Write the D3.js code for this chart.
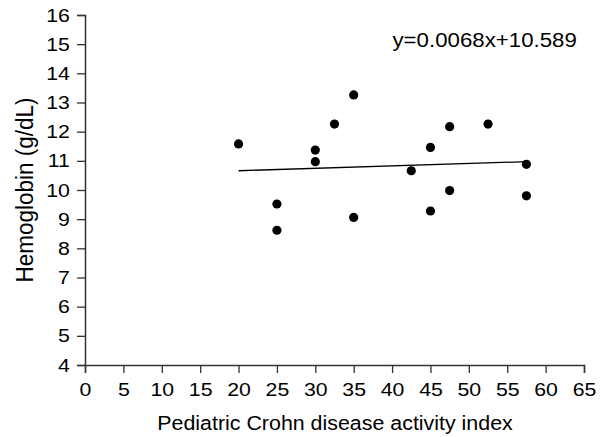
<!DOCTYPE html>
<html>
<head>
<meta charset="utf-8">
<script src="https://cdn.jsdelivr.net/npm/d3@7"></script>
<style>
  html, body { margin: 0; padding: 0; background: #fff; }
  svg { display: block; }
  text { font-family: "Liberation Sans", Arial, Helvetica, sans-serif; fill: #000; }
</style>
</head>
<body>
<svg id="chart" width="606" height="437"></svg>
<script>
// Data
const pcdai = [20, 25, 25, 30, 30, 32.5, 35, 35, 42.5, 45, 45, 47.5, 47.5, 52.5, 57.5, 57.5];
const hemoglobin = [11.58, 9.52, 8.62, 11.37, 10.97, 12.26, 13.26, 9.06, 10.66, 11.46, 9.28, 12.17, 9.98, 12.26, 10.88, 9.80];
const trendX = [20, 57.5];
const trendY = [10.66, 10.97];
const xTicks = [0, 5, 10, 15, 20, 25, 30, 35, 40, 45, 50, 55, 60, 65];
const yTicks = [4, 5, 6, 7, 8, 9, 10, 11, 12, 13, 14, 15, 16];
const equationLabel = "y=0.0068x+10.589";
const xTitle = "Pediatric Crohn disease activity index";
const yTitle = "Hemoglobin (g/dL)";

const svg = d3.select("#chart");
const mLeft = 85, mRight = 584, mTop = 15, mBottom = 365;
const stretch = 1.12; // reference glyphs are slightly wide

const x = d3.scaleLinear().domain([0, 65]).range([mLeft, mRight]);
const y = d3.scaleLinear().domain([4, 16]).range([mBottom, mTop]);

const xAxis = svg.append("g")
  .attr("transform", `translate(0,${mBottom})`)
  .call(d3.axisBottom(x).tickValues(xTicks).tickSize(8).tickPadding(10).tickFormat(d3.format("d")));
const yAxis = svg.append("g")
  .attr("transform", `translate(${mLeft},0)`)
  .call(d3.axisLeft(y).tickValues(yTicks).tickSize(8).tickPadding(5.5).tickFormat(d3.format("d")));

[xAxis, yAxis].forEach(g => {
  g.select(".domain").attr("stroke", "#333").attr("stroke-width", 1.5);
  g.selectAll(".tick line").attr("stroke", "#333").attr("stroke-width", 1.3);
  g.selectAll(".tick text").style("font-size", "19px").attr("fill", "#000")
    .style("font-family", '"Liberation Sans", Arial, sans-serif')
    .attr("transform", `scale(${stretch},1)`);
});

// Trend line
svg.append("line")
  .attr("x1", x(trendX[0])).attr("y1", y(trendY[0]))
  .attr("x2", x(trendX[1])).attr("y2", y(trendY[1]))
  .attr("stroke", "#000").attr("stroke-width", 1.3);

// Points
svg.append("g").selectAll("circle")
  .data(pcdai.map((d, i) => [d, hemoglobin[i]]))
  .join("circle")
  .attr("cx", d => x(d[0]))
  .attr("cy", d => y(d[1]))
  .attr("r", 4.6)
  .attr("fill", "#000");

// Equation
svg.append("text")
  .attr("transform", "translate(392.5,47) scale(1.06,1)")
  .style("font-size", "21px")
  .text(equationLabel);

// Axis titles
svg.append("text")
  .attr("transform", `translate(${(158 + 512) / 2},430) scale(1.07,1)`)
  .attr("text-anchor", "middle")
  .style("font-size", "20px")
  .text(xTitle);

svg.append("text")
  .attr("transform", `translate(33,${(mTop + mBottom) / 2}) rotate(-90) scale(1,1.1)`)
  .attr("text-anchor", "middle")
  .style("font-size", "22.5px")
  .text(yTitle);
</script>
</body>
</html>
